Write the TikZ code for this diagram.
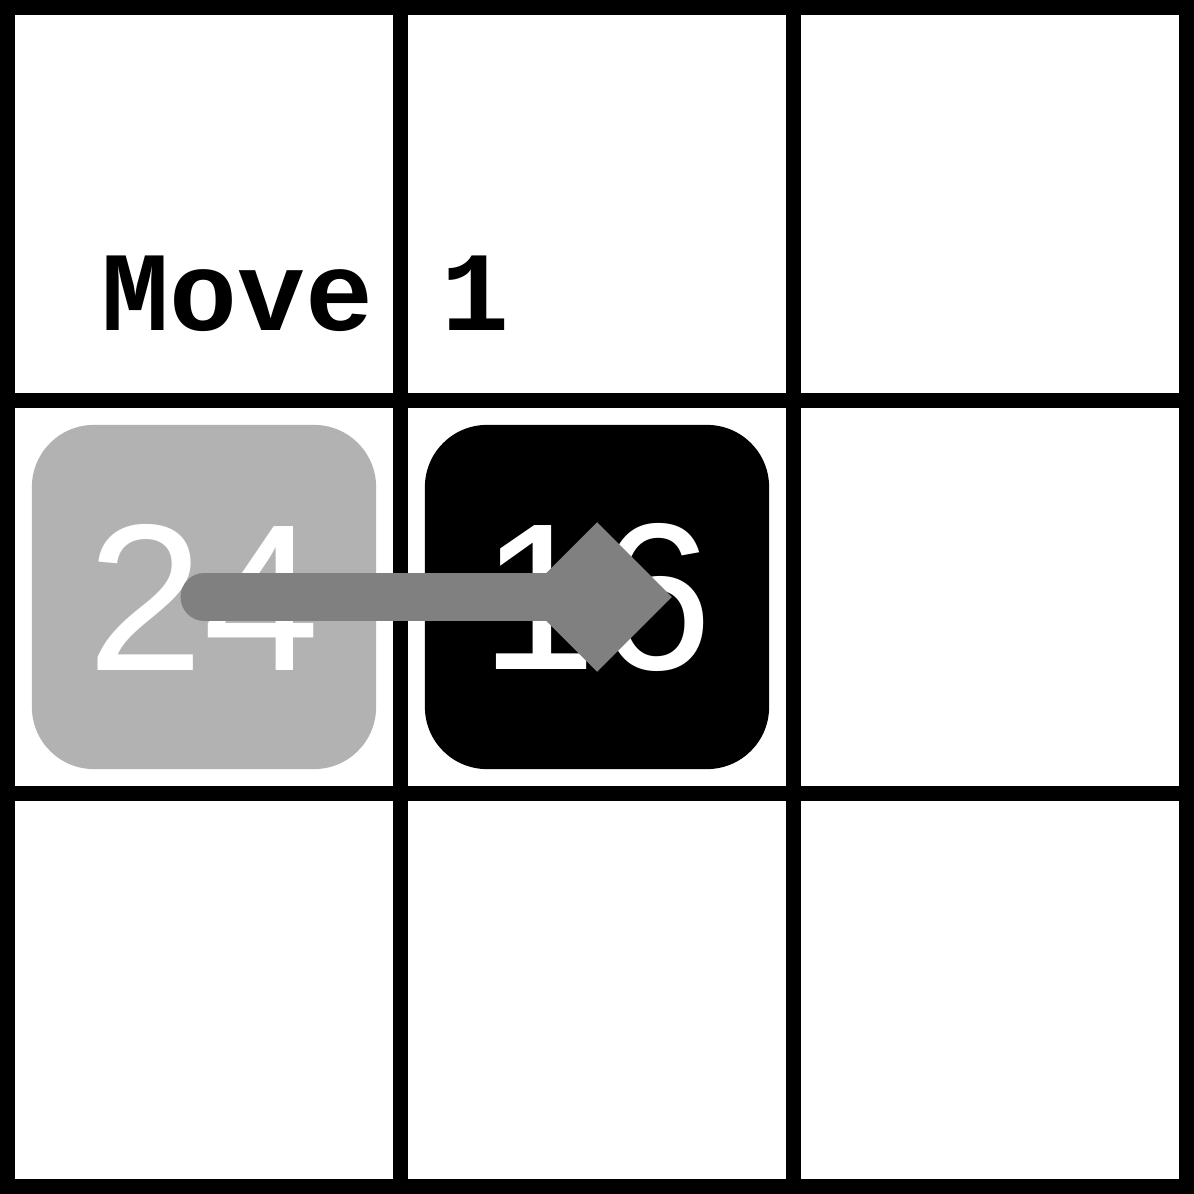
\documentclass[tikz,border=0pt]{standalone}
\usepackage{fontspec}
\setmainfont{Liberation Sans}
\newfontfamily\movefont{Liberation Mono}
\usetikzlibrary{shapes.geometric}

\begin{document}
\begin{tikzpicture}[
x=0.01cm, y=-0.01cm,
tile/.style={
	rectangle, rounded corners=0.62cm,
	minimum size=3.44cm, inner sep=0pt,
	text=white, font=\fontsize{59.5}{60}\selectfont
},
gridline/.style={line width=0.15cm, black},
move/.style={line width=0.47cm, black!50, line cap=round},
head/.style={diamond, fill=black!50, inner sep=0pt, minimum size=1.5cm}
]
\useasboundingbox (0,0) rectangle (1194,1194);
\fill[white] (0,0) rectangle (1194,1194);
% board
\node[tile,fill=black!30] (t24) at (204,597) {24};
\node[tile,fill=black] (t16) at (597,597) {16};
\node[anchor=base west, inner sep=0pt, font=\movefont\bfseries\fontsize{32.2}{34}\selectfont]
	(label) at (101,330) {Move 1};
\draw[gridline] (7.5,7.5) rectangle (1186.5,1186.5);
\foreach \p in {400.5,793.5}
{
	\draw[gridline] (\p,0) -- (\p,1194);
	\draw[gridline] (0,\p) -- (1194,\p);
}
% the move
\draw[move] (t24.center) -- (t16.center);
\node[head] (tip) at (t16.center) {};
\end{tikzpicture}
\end{document}
